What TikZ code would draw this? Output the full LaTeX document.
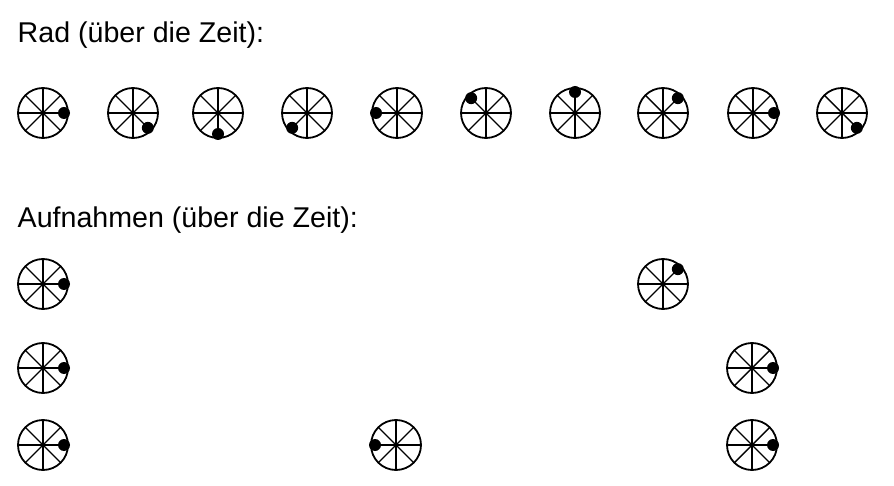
\documentclass[tikz,border=0pt]{standalone}
\usepackage{fontspec}
\setmainfont{Liberation Sans}
\begin{document}
\begin{tikzpicture}[x=1pt,y=1pt,
  heading/.style={anchor=base west,inner sep=0pt,font=\fontsize{28.6}{34}\selectfont},
  wheel/.pic={
    \draw[line width=1.8pt] (0,0) circle (25pt);
    \foreach \a in {0,45,...,315} \draw[line width=1.4pt] (0,0) -- (\a:25pt);
    \fill (#1:21pt) circle (6pt);
  }]
\useasboundingbox (0,0) rectangle (894,-486);
\node[heading] (t1) at (17.5,-43) {Rad (über die Zeit):};
\node[heading] (t2) at (17.5,-228) {Aufnahmen (über die Zeit):};
% wheel over time
\pic (r1) at (43,-113) {wheel=0};
\pic (r2) at (133,-113) {wheel=-45};
\pic (r3) at (218,-113) {wheel=-90};
\pic (r4) at (307,-113) {wheel=-135};
\pic (r5) at (397,-113) {wheel=180};
\pic (r6) at (486,-113) {wheel=135};
\pic (r7) at (575,-113) {wheel=90};
\pic (r8) at (663,-113) {wheel=45};
\pic (r9) at (753,-113) {wheel=0};
\pic (r10) at (842,-113) {wheel=-45};
% recordings
\pic (a1) at (43,-284) {wheel=0};
\pic (a2) at (663,-284) {wheel=45};
\pic (b1) at (43,-368) {wheel=0};
\pic (b2) at (752,-368) {wheel=0};
\pic (c1) at (43,-445) {wheel=0};
\pic (c2) at (396,-445) {wheel=180};
\pic (c3) at (752,-445) {wheel=0};
\end{tikzpicture}
\end{document}
